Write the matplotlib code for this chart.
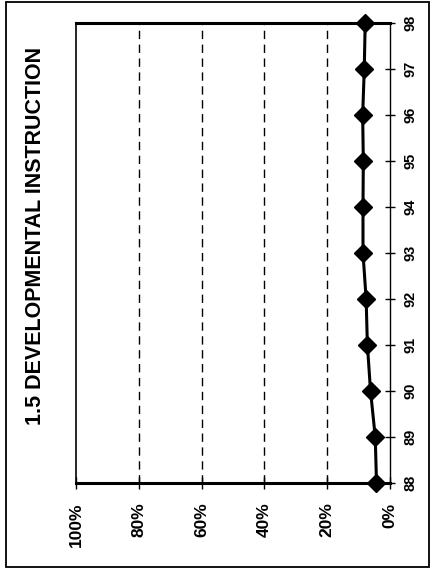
import matplotlib
matplotlib.use("Agg")
import matplotlib.pyplot as plt
from matplotlib.patches import Rectangle

plt.rcParams['font.family'] = ['Liberation Sans', 'DejaVu Sans']

years = [88, 89, 90, 91, 92, 93, 94, 95, 96, 97, 98]
share = [4.3, 4.7, 6.2, 7.2, 7.6, 8.6, 8.6, 8.5, 8.7, 8.2, 7.9]
pct_ticks = [100, 80, 60, 40, 20, 0]
pct_labels = ['100%', '80%', '60%', '40%', '20%', '0%']
title = '1.5 DEVELOPMENTAL INSTRUCTION'

W, H = 434, 571
fig = plt.figure(figsize=(W / 100, H / 100), dpi=100)
ax = fig.add_axes([76 / W, (H - 483) / H, (390 - 76) / W, (483 - 23) / H])

# page is turned on its side: percent runs right-to-left, years bottom-to-top
ax.plot(share, years, color='black', lw=2.2, marker='D', markersize=9,
        clip_on=False, zorder=5)
ax.set_xlim(100, 0)
ax.set_ylim(88, 98)

for v in [80, 60, 40, 20]:
    ax.axvline(v, color='black', lw=1, linestyle=(0, (6, 4)), zorder=1)

ax.set_xticks(pct_ticks)
ax.set_xticklabels(pct_labels, rotation=90, fontsize=12.5, fontweight='bold')
ax.tick_params(axis='x', direction='inout', length=8, width=1, pad=10)

ax.yaxis.tick_right()
ax.set_yticks(years)
ax.set_yticklabels([str(y) for y in years], rotation=90, fontsize=10.5,
                   fontweight='bold', va='center')
ax.tick_params(axis='y', direction='inout', length=7, width=1, pad=6)

ax.spines['top'].set_linewidth(2.2)
ax.spines['bottom'].set_linewidth(2.2)
ax.spines['left'].set_linewidth(1.2)
ax.spines['right'].set_linewidth(1.0)

fig.text(36 / W, 1 - 236 / H, title, rotation=90, fontsize=15.5,
         fontweight='bold', ha='center', va='center')

# outer frame around the whole panel
fig.patches.append(Rectangle((6 / W, 1 - 567 / H), (429 - 6) / W, (567 - 2) / H,
                             transform=fig.transFigure, fill=False,
                             edgecolor='black', lw=1.3))

fig.savefig('out.png', dpi=100)
